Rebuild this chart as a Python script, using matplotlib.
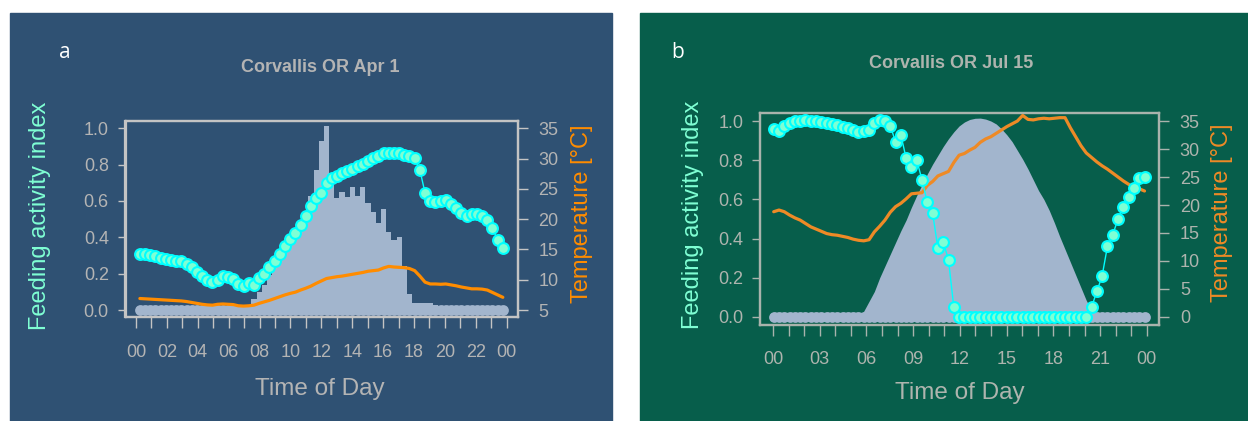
import numpy as np
import matplotlib
matplotlib.use("Agg")
import matplotlib.pyplot as plt
from matplotlib.patches import Rectangle

plt.rcParams['font.family'] = ['Liberation Sans', 'DejaVu Sans']

# ---------------- data: panel a (Corvallis OR Apr 1) ----------------
hours_a = np.linspace(0.25, 23.75, 71)
feeding_a = [0.31, 0.31, 0.305, 0.295, 0.288, 0.28, 0.275, 0.272, 0.27, 0.255,
             0.235, 0.21, 0.185, 0.165, 0.155, 0.165, 0.185, 0.18, 0.17, 0.145,
             0.13, 0.15, 0.14, 0.175, 0.2, 0.235, 0.27, 0.31, 0.35, 0.39,
             0.425, 0.47, 0.515, 0.57, 0.615, 0.645, 0.70, 0.725, 0.74, 0.755,
             0.765, 0.775, 0.79, 0.805, 0.82, 0.835, 0.845, 0.862, 0.866, 0.862,
             0.862, 0.855, 0.845, 0.835, 0.77, 0.645, 0.60, 0.592, 0.60, 0.605,
             0.585, 0.56, 0.535, 0.52, 0.53, 0.53, 0.515, 0.495, 0.45, 0.385,
             0.34]
temp_a = [6.9, 6.85, 6.8, 6.75, 6.7, 6.65, 6.6, 6.55, 6.5, 6.4,
          6.25, 6.1, 5.95, 5.85, 5.8, 5.95, 6.0, 5.95, 5.9, 5.7,
          5.65, 5.7, 5.8, 6.1, 6.35, 6.6, 6.9, 7.2, 7.5, 7.75,
          7.95, 8.3, 8.6, 8.95, 9.4, 9.8, 10.2, 10.35, 10.5, 10.6,
          10.75, 10.9, 11.05, 11.2, 11.4, 11.5, 11.6, 11.95, 12.2, 12.1,
          12.05, 12.0, 11.85, 11.5, 10.6, 9.6, 9.3, 9.3, 9.25, 9.3,
          9.15, 9.0, 8.8, 8.65, 8.5, 8.5, 8.45, 8.3, 7.9, 7.5,
          7.1]
light_a = [0, 0, 0, 0, 0, 0, 0, 0, 0, 0,
           0, 0, 0, 0, 0, 0, 0, 0, 0, 0,
           0, 0, 0.06, 0.10, 0.14, 0.19, 0.235, 0.29, 0.355, 0.39,
           0.44, 0.48, 0.54, 0.63, 0.77, 0.93, 1.01, 0.72, 0.615, 0.65,
           0.62, 0.675, 0.63, 0.675, 0.59, 0.54, 0.48, 0.555, 0.43, 0.385,
           0.40, 0.24, 0.09, 0.04, 0.037, 0.037, 0.037, 0.03, 0, 0,
           0, 0, 0, 0, 0, 0, 0, 0, 0, 0,
           0]

# ---------------- data: panel b (Corvallis OR Jul 15) ----------------
hours_b = np.linspace(0.05, 23.85, 71)
feeding_b = [0.96, 0.95, 0.975, 0.99, 1.0, 1.002, 1.005, 1.0, 0.998, 0.993,
             0.988, 0.983, 0.978, 0.972, 0.962, 0.952, 0.945, 0.948, 0.955, 0.99,
             1.005, 1.0, 0.975, 0.895, 0.93, 0.81, 0.765, 0.80, 0.70, 0.585,
             0.53, 0.35, 0.385, 0.29, 0.05, 0, 0, 0, 0, 0,
             0, 0, 0, 0, 0, 0, 0, 0, 0, 0,
             0, 0, 0, 0, 0, 0, 0, 0, 0, 0,
             0.05, 0.13, 0.21, 0.36, 0.42, 0.50, 0.56, 0.61, 0.66, 0.71,
             0.715]
temp_b = [18.8, 19.1, 18.8, 18.2, 17.7, 17.3, 16.7, 16.1, 15.7, 15.3,
          14.9, 14.7, 14.6, 14.4, 14.2, 13.9, 13.7, 13.6, 13.8, 15.2,
          16.2, 17.3, 18.7, 19.7, 20.3, 21.1, 22.0, 22.1, 22.2, 23.5,
          24.2, 25.2, 25.6, 26.0, 27.6, 28.9, 29.2, 29.8, 30.3, 31.2,
          31.8, 32.2, 32.8, 33.4, 34.0, 34.5, 35.0, 36.0, 35.3, 35.2,
          35.4, 35.5, 35.4, 35.5, 35.6, 35.6, 33.8, 32.2, 30.6, 29.3,
          28.5, 27.7, 27.0, 26.4, 25.7, 25.0, 24.3, 23.7, 23.2, 22.9,
          22.5]
light_b = [0, 0, 0, 0, 0, 0, 0, 0, 0, 0,
           0, 0, 0, 0, 0, 0, 0, 0.03, 0.08, 0.13,
           0.20, 0.26, 0.32, 0.38, 0.44, 0.495, 0.56, 0.62, 0.675, 0.73,
           0.78, 0.825, 0.87, 0.91, 0.945, 0.975, 0.995, 1.008, 1.014, 1.015,
           1.01, 1.0, 0.985, 0.96, 0.93, 0.895, 0.85, 0.805, 0.755, 0.70,
           0.645, 0.60, 0.545, 0.48, 0.41, 0.345, 0.28, 0.215, 0.15, 0.085,
           0.035, 0, 0, 0, 0, 0, 0, 0, 0, 0,
           0]

ticks_a = [0, 2, 4, 6, 8, 10, 12, 14, 16, 18, 20, 22, 24]
ticklabels_a = ['00', '02', '04', '06', '08', '10', '12', '14', '16', '18', '20', '22', '00']
ticks_b = [0, 3, 6, 9, 12, 15, 18, 21, 24]
ticklabels_b = ['00', '03', '06', '09', '12', '15', '18', '21', '00']
left_ticks = [0.0, 0.2, 0.4, 0.6, 0.8, 1.0]
right_ticks_a = [5, 10, 15, 20, 25, 30, 35]
right_ticks_b = [0, 5, 10, 15, 20, 25, 30, 35]

# ---------------- layout ----------------
W, H = 1248, 421
fig = plt.figure(figsize=(W / 100, H / 100), dpi=100, facecolor='white')


def fx(x):
    return x / W


def fy(y):
    return 1 - y / H


def rect(l, t, r, b):
    return [fx(l), fy(b), fx(r) - fx(l), fy(t) - fy(b)]


GRAY_BAR = '#A2B5CD'
CYAN = '#00FFFF'
AQUA = '#7FFFD4'


def panel(bg, box_px, xlim, ylim_r, hours, feeding, temp, light, ticks, ticklabels,
          rticks, title, letter, txt, orange, boxcol, use_bars, pos):
    # background
    fig.patches.append(Rectangle((fx(pos['bg'][0]), fy(pos['bg'][3])),
                                 fx(pos['bg'][2]) - fx(pos['bg'][0]),
                                 fy(pos['bg'][1]) - fy(pos['bg'][3]),
                                 transform=fig.transFigure, color=bg, zorder=-10))
    r = rect(*box_px)
    ax = fig.add_axes(r)
    ax.set_facecolor('none')
    ax.set_xlim(*xlim)
    ax.set_ylim(-0.04, 1.04)
    if use_bars:
        ax.bar(hours, light, width=hours[1] - hours[0], color=GRAY_BAR,
               linewidth=0, zorder=2)
    else:
        ax.fill_between(hours, 0, light, color=GRAY_BAR, linewidth=0, zorder=2)
    ax.plot(hours, np.zeros_like(hours), color=GRAY_BAR, lw=6,
            solid_capstyle='round', zorder=3)
    ax.scatter(hours, np.zeros_like(hours), s=60, color=GRAY_BAR, zorder=3,
               linewidths=0)

    axt = ax.twinx()
    axt.set_ylim(*ylim_r)
    axt.plot(hours, temp, color=orange, lw=2.3, solid_capstyle='round', zorder=3)

    axf = fig.add_axes(r, sharex=ax, sharey=ax)
    axf.set_facecolor('none')
    axf.plot(hours, feeding, color=CYAN, lw=1.0, zorder=3)
    axf.plot(hours, feeding, 'o', ms=7.8, mfc=AQUA, mec=CYAN, mew=1.5, zorder=4)
    axf.axis('off')

    for a in (ax, axt):
        for s in a.spines.values():
            s.set_color(boxcol)
            s.set_linewidth(1.6)
    ax.set_xticks(ticks)
    ax.set_xticklabels(ticklabels)
    ax.set_xticks(np.arange(0, 25, 1), minor=True)
    ax.tick_params(axis='x', which='both', length=8, width=1, color=boxcol,
                   pad=11, labelsize=13, labelcolor=txt, direction='out')
    ax.set_yticks(left_ticks)
    ax.set_yticklabels([f'{v:.1f}' for v in left_ticks])
    ax.tick_params(axis='y', length=6, width=1, color=boxcol, pad=6,
                   labelsize=13, labelcolor=txt)
    axt.set_yticks(rticks)
    axt.tick_params(axis='y', length=7, width=1, color=boxcol, pad=8,
                    labelsize=13, labelcolor=txt)

    fig.text(fx(pos['title'][0]), fy(pos['title'][1]), title, ha='center',
             va='center', fontsize=13, fontweight='bold', color=txt)
    fig.text(fx(pos['letter'][0]), fy(pos['letter'][1]), letter, ha='center',
             va='center', fontsize=15, color='white',
             family=['Open Sans', 'DejaVu Sans'])
    fig.text(fx(pos['ylab'][0]), fy(pos['ylab'][1]), 'Feeding activity index',
             ha='center', va='center', rotation=90, fontsize=17, color=AQUA)
    fig.text(fx(pos['rlab'][0]), fy(pos['rlab'][1]), 'Temperature [°C]',
             ha='center', va='center', rotation=90, fontsize=17, color=orange)
    fig.text(fx(pos['xlab'][0]), fy(pos['xlab'][1]), 'Time of Day',
             ha='center', va='center', fontsize=17.5, color=txt)


panel('#2F5173', (125.5, 121, 517.5, 317.3), (-0.68, 24.7), (3.8, 36.2),
      hours_a, feeding_a, temp_a, light_a, ticks_a, ticklabels_a, right_ticks_a,
      'Corvallis OR Apr 1', 'a', '#B4B4B4', '#FF8C00', '#C4C4C4', True,
      dict(bg=(10, 13, 612, 421), title=(320, 68), letter=(65, 53),
           ylab=(40, 216), rlab=(582, 214), xlab=(320, 389)))

panel('#075E4B', (760, 113.2, 1159, 324.8), (-0.83, 24.78), (-1.4, 36.4),
      hours_b, feeding_b, temp_b, light_b, ticks_b, ticklabels_b, right_ticks_b,
      'Corvallis OR Jul 15', 'b', '#AEB4AE', '#EE8A26', '#A9B3AC', False,
      dict(bg=(640, 13, 1248, 421), title=(951, 63), letter=(678, 52),
           ylab=(693, 215), rlab=(1222, 213), xlab=(960, 393)))

fig.savefig('out.png', dpi=100, facecolor='white')
